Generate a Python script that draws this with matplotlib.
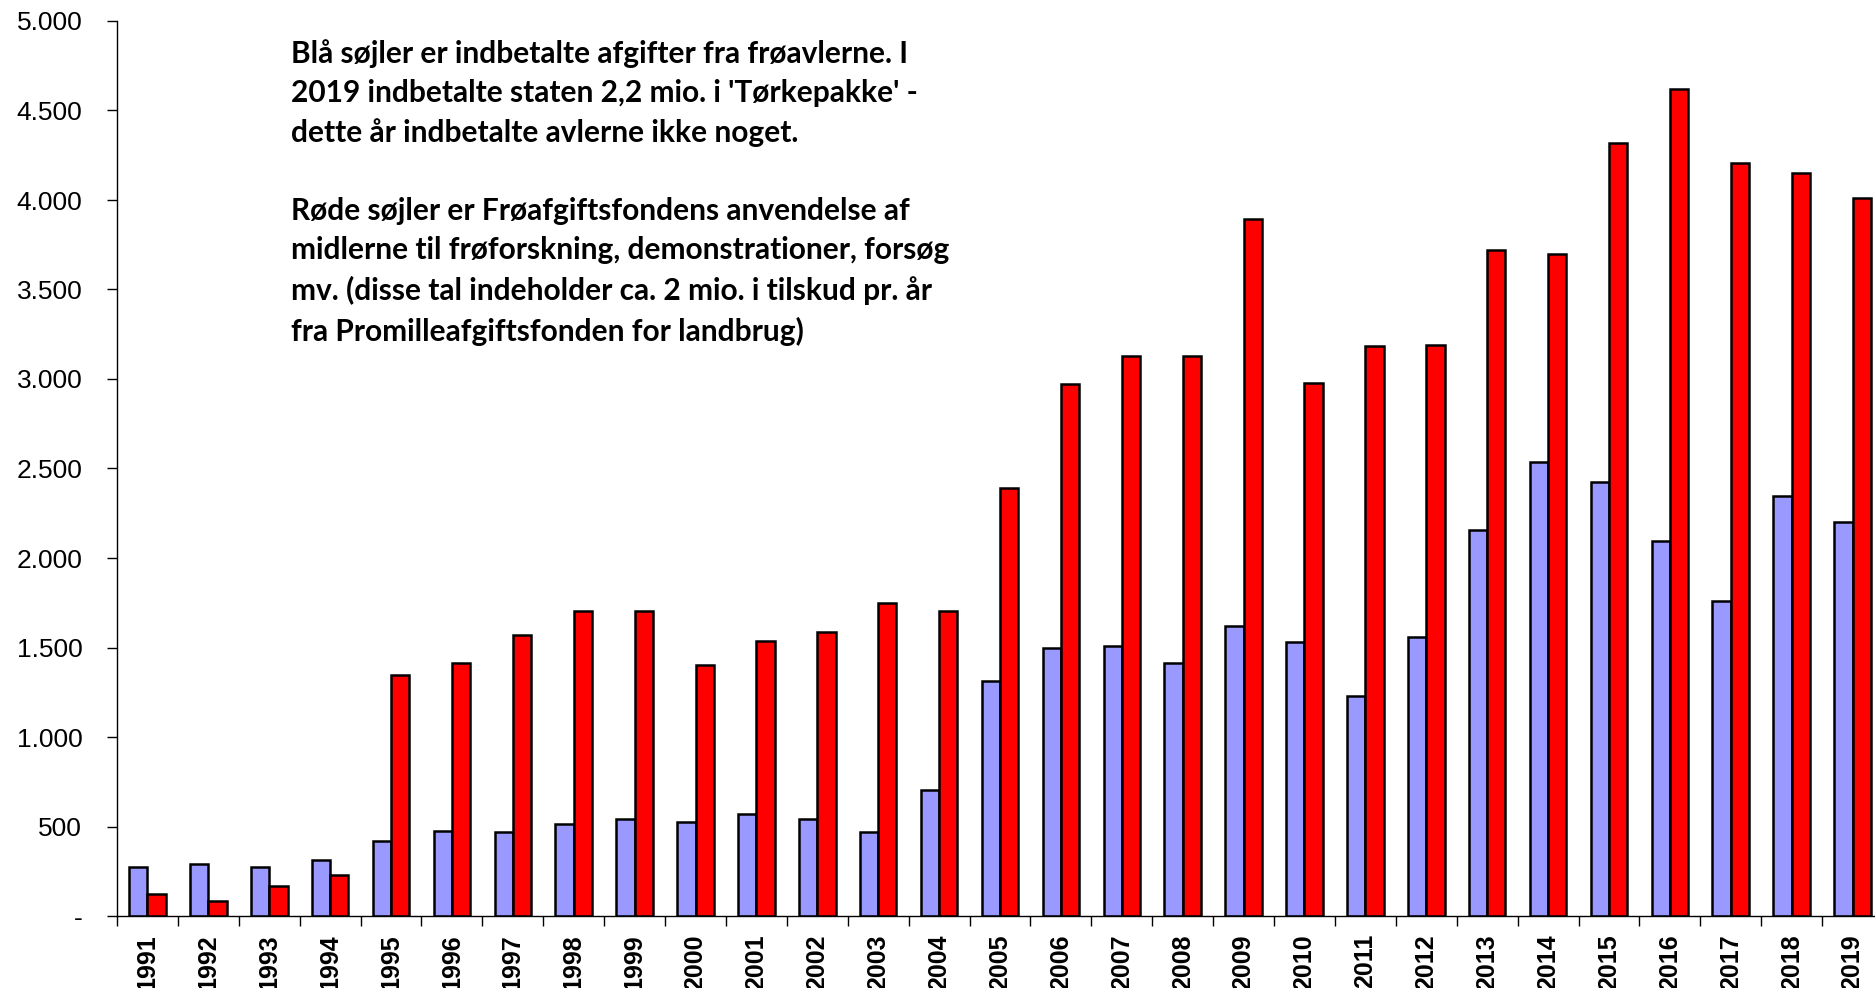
import matplotlib
matplotlib.use("Agg")
import matplotlib.pyplot as plt
import numpy as np
from matplotlib.ticker import FixedLocator

years = [str(y) for y in range(1991, 2020)]
blue_vals = [274, 293, 274, 311, 417, 473, 470, 512, 541, 526, 568, 541, 468, 706,
             1315, 1495, 1508, 1415, 1622, 1530, 1228, 1557, 2157, 2535, 2422, 2097,
             1757, 2346, 2203]
red_vals = [125, 82, 168, 231, 1344, 1415, 1571, 1702, 1702, 1404, 1537, 1589, 1750, 1702,
            2393, 2970, 3128, 3128, 3895, 2975, 3182, 3188, 3723, 3697, 4317, 4620,
            4208, 4151, 4009]
ytick_vals = [0, 500, 1000, 1500, 2000, 2500, 3000, 3500, 4000, 4500, 5000]
ytick_labels = ["-", "500", "1.000", "1.500", "2.000", "2.500", "3.000", "3.500",
                "4.000", "4.500", "5.000"]
note = ("Blå søjler er indbetalte afgifter fra frøavlerne. I\n"
        "2019 indbetalte staten 2,2 mio. i 'Tørkepakke' -\n"
        "dette år indbetalte avlerne ikke noget.\n"
        "\n"
        "Røde søjler er Frøafgiftsfondens anvendelse af\n"
        "midlerne til frøforskning, demonstrationer, forsøg\n"
        "mv. (disse tal indeholder ca. 2 mio. i tilskud pr. år\n"
        "fra Promilleafgiftsfonden for landbrug)")

W, H = 1875, 988
fig = plt.figure(figsize=(W / 100, H / 100), dpi=100)
ax = fig.add_axes([117 / W, (H - 916) / H, 1766 / W, 895 / H])

x = np.arange(len(years))
bw = 0.30
ax.bar(x - bw / 2, blue_vals, width=bw, color="#9999FF", edgecolor="black", linewidth=1.8, zorder=2)
ax.bar(x + bw / 2, red_vals, width=bw, color="#FF0000", edgecolor="black", linewidth=1.8, zorder=2)

ax.set_xlim(-0.5, len(years) - 0.5)
ax.set_ylim(0, 5000)
ax.set_yticks(ytick_vals)
ax.set_yticklabels(ytick_labels, fontsize=19, family="Liberation Sans")
ax.set_xticks(x)
ax.set_xticklabels(years, rotation=90, fontsize=18, fontweight="bold", family="Liberation Sans")
ax.xaxis.set_minor_locator(FixedLocator(np.arange(-0.5, len(years), 1.0)))
ax.tick_params(axis="x", which="major", length=0, pad=13)
ax.tick_params(axis="x", which="minor", length=7, width=1, direction="out")
ax.tick_params(axis="y", length=7, width=1, direction="out", pad=18)

for s in ["top", "right"]:
    ax.spines[s].set_visible(False)
for s in ["left", "bottom"]:
    ax.spines[s].set_linewidth(1)
    ax.spines[s].set_color("black")

fig.text(291 / W, 1 - 39 / H, note, ha="left", va="top", fontsize=21.5, fontweight="bold",
         family="Lato", linespacing=1.48)

fig.savefig("out.png", dpi=100)
